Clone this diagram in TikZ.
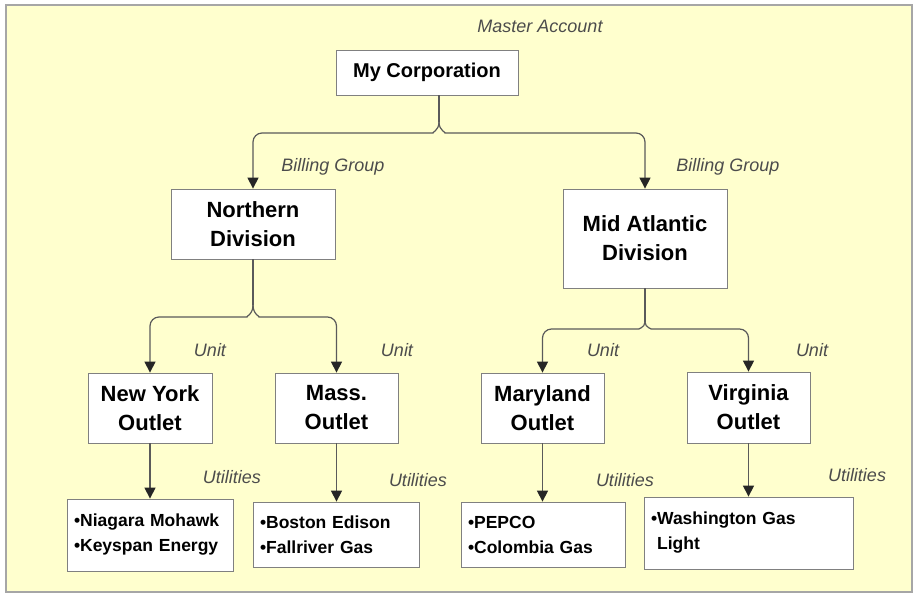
\documentclass[tikz,border=0pt]{standalone}
\usepackage{fontspec}
\setmainfont{Liberation Sans}
\usetikzlibrary{arrows.meta}
\definecolor{paper}{RGB}{255,255,206}
\definecolor{wire}{RGB}{90,90,90}

\begin{document}
\begin{tikzpicture}[x=1pt,y=-1pt,
	acct/.style={rectangle, draw=black!50, fill=white, thick, inner sep=0pt, align=center, font=\bfseries\fontsize{22}{29}\selectfont},
	utilbox/.style={rectangle, draw=black!50, fill=white, thick, inner xsep=7pt, inner ysep=0pt, align=left, font=\bfseries\fontsize{17.5}{25}\selectfont},
	tag/.style={text=black!70, font=\itshape\fontsize{18}{20}\selectfont},
	link/.style={draw=wire, line width=1.2pt},
	arr/.style={link, -{Triangle[width=11pt,length=11pt,color=black!85]}}]
	\useasboundingbox (0,0) rectangle (916,595);
	\draw[draw=black!35, fill=paper, line width=1.5pt] (6,5) rectangle (912,592);

	% accounts
	\node[acct, minimum width=182pt, minimum height=45pt, font=\bfseries\fontsize{20}{24}\selectfont] (corp) at (427,72.5) {My Corporation};
	\node[acct, minimum width=164pt, minimum height=70pt] (north) at (253,224) {Northern\\Division};
	\node[acct, minimum width=164pt, minimum height=99pt] (midatl) at (645,238.5) {Mid Atlantic\\Division};
	\node[acct, minimum width=124pt, minimum height=70pt] (newyork) at (150,408) {New York\\Outlet};
	\node[acct, minimum width=123pt, minimum height=70pt] (mass) at (336.5,408) {Mass.\\Outlet};
	\node[acct, minimum width=123pt, minimum height=70pt] (maryland) at (542.5,408) {Maryland\\Outlet};
	\node[acct, minimum width=123pt, minimum height=71pt] (virginia) at (748.5,407.5) {Virginia\\Outlet};

	% utilities
	\node[utilbox, text width=152pt, minimum height=72pt] (niagara) at (150,535) {\textbullet Niagara Mohawk\\\textbullet Keyspan Energy};
	\node[utilbox, text width=152pt, minimum height=65pt] (boston) at (336,534.5) {\textbullet Boston Edison\\\textbullet Fallriver Gas};
	\node[utilbox, text width=150pt, minimum height=65pt] (pepco) at (543,534.5) {\textbullet PEPCO\\\textbullet Colombia Gas};
	\node[utilbox, text width=195pt, minimum height=72pt] (washington) at (748.5,533) {\textbullet Washington Gas\\\phantom{\textbullet}Light};

	% level tags
	\node[tag] (tagmaster) at (540,26) {Master Account};
	\node[tag] (tagbillA) at (333,167) {Billing Group};
	\node[tag] (tagbillB) at (728,167) {Billing Group};
	\node[tag] (tagunitA) at (210,350) {Unit};
	\node[tag] (tagunitB) at (397,350) {Unit};
	\node[tag] (tagunitC) at (603,350) {Unit};
	\node[tag] (tagunitD) at (812,350) {Unit};
	\node[tag] (tagutilA) at (232,477) {Utilities};
	\node[tag] (tagutilB) at (418,480) {Utilities};
	\node[tag] (tagutilC) at (625,480) {Utilities};
	\node[tag] (tagutilD) at (857,475) {Utilities};

	% split connectors
	\coordinate (hubA) at (439,122);
	\coordinate (barA) at (0,133);
	\draw[link] (corp.south -| hubA) -- (hubA);
	\draw[arr, rounded corners=9pt] (hubA) .. controls +(0,9) and +(7,0) .. (424,133) -- (north.north |- barA) -- (north.north);
	\draw[arr, rounded corners=9pt] (hubA) .. controls +(0,9) and +(-7,0) .. (454,133) -- (midatl.north |- barA) -- (midatl.north);

	\coordinate (hubB) at (253,305);
	\coordinate (barB) at (0,317);
	\draw[link] (north.south) -- (hubB);
	\draw[arr, rounded corners=9pt] (hubB) .. controls +(0,10) and +(7,0) .. (238,317) -- (newyork.north |- barB) -- (newyork.north);
	\draw[arr, rounded corners=9pt] (hubB) .. controls +(0,10) and +(-7,0) .. (268,317) -- (mass.north |- barB) -- (mass.north);

	\coordinate (hubC) at (645,322);
	\coordinate (barC) at (0,329);
	\draw[link] (midatl.south) -- (hubC);
	\draw[arr, rounded corners=9pt] (hubC) .. controls +(0,6) and +(7,0) .. (630,329) -- (maryland.north |- barC) -- (maryland.north);
	\draw[arr, rounded corners=9pt] (hubC) .. controls +(0,6) and +(-7,0) .. (660,329) -- (virginia.north |- barC) -- (virginia.north);

	% straight connectors
	\draw[arr] (newyork.south) -- (newyork.south |- niagara.north);
	\draw[arr] (mass.south) -- (mass.south |- boston.north);
	\draw[arr] (maryland.south) -- (maryland.south |- pepco.north);
	\draw[arr] (virginia.south) -- (virginia.south |- washington.north);
\end{tikzpicture}
\end{document}
